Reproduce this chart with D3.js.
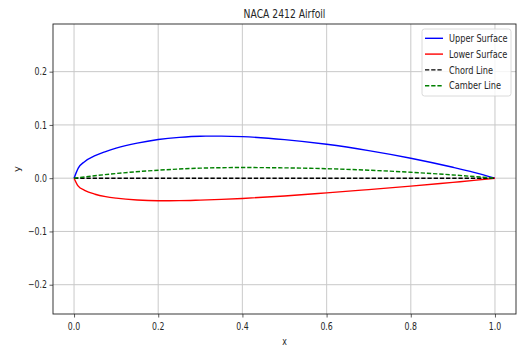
<!DOCTYPE html>
<html>
<head>
<meta charset="utf-8">
<script src="https://cdn.jsdelivr.net/npm/d3@7"></script>
<style>
  body { margin: 0; background: #fff; }
  text { font-family: "DejaVu Sans", sans-serif; fill: #262626; }
</style>
</head>
<body>
<div class="chart"></div>
<script>
// NACA 2412 airfoil

var xs = [0, 0.01, 0.025, 0.05, 0.075, 0.1, 0.15, 0.2, 0.25, 0.3, 0.35, 0.4, 0.5, 0.6, 0.7, 0.8, 0.9, 0.95, 1.0];
var upperY = [0, 0.019, 0.031, 0.0424, 0.050, 0.0563, 0.0658, 0.0726, 0.0767, 0.0788, 0.0790, 0.0780, 0.0724, 0.0636, 0.0518, 0.0375, 0.0205, 0.0110, 0];
var lowerY = [0, -0.015, -0.0227, -0.0301, -0.0346, -0.0375, -0.0410, -0.0423, -0.0422, -0.0412, -0.0398, -0.0380, -0.0334, -0.0276, -0.0214, -0.0150, -0.0078, -0.0042, 0];
var camberX = [0, 0.1, 0.2, 0.3, 0.4, 0.5, 0.6, 0.7, 0.8, 0.9, 1.0];
var camberY = [0, 0.0088, 0.015, 0.0188, 0.02, 0.0194, 0.0178, 0.015, 0.0111, 0.0061, 0];
var chordX = [0, 1];
var chordY = [0, 0];

var xTicks = [0, 0.2, 0.4, 0.6, 0.8, 1.0];
var yTicks = [-0.2, -0.1, 0, 0.1, 0.2];
var seriesNames = ["Upper Surface", "Lower Surface", "Chord Line", "Camber Line"];
var seriesColors = ["#0000ff", "#ff0000", "#000000", "#008000"];

var width = 523, height = 351;
var padL = 53, padR = 516, padT = 24, padB = 314;
var sx = 0.78; // text looks squeezed sideways

var svg = d3.select(".chart").append("svg")
    .attr("width", width)
    .attr("height", height);

var x = d3.scaleLinear().domain([-0.05, 1.05]).range([padL, padR]);
var y = d3.scaleLinear().domain([-0.255, 0.2895]).range([padB, padT]);

var zip = function(a, b){ return a.map(function(v, i){ return [v, b[i]]; }); };

var txt = function(g, px, py, s, anchor, size, scale){
  return g.append("text")
      .attr("transform", "translate(" + px + "," + py + ") scale(" + scale + ",1)")
      .attr("text-anchor", anchor)
      .style("font-size", size + "px")
      .text(s);
};

// grid
var grid = svg.append("g");
grid.selectAll(".gx").data(xTicks).enter().append("line")
    .attr("x1", function(d){ return x(d); }).attr("x2", function(d){ return x(d); })
    .attr("y1", padT).attr("y2", padB)
    .attr("stroke", "#d2d2d2").attr("stroke-width", 1.2);
grid.selectAll(".gy").data(yTicks).enter().append("line")
    .attr("y1", function(d){ return y(d); }).attr("y2", function(d){ return y(d); })
    .attr("x1", padL).attr("x2", padR)
    .attr("stroke", "#c8c8c8").attr("stroke-width", 1);

// axes
var xAxis = svg.append("g")
    .attr("transform", "translate(0," + padB + ")")
    .call(d3.axisBottom(x).tickValues(xTicks).tickSize(3.5).tickFormat(d3.format(".1f")));
var yAxis = svg.append("g")
    .attr("transform", "translate(" + padL + ",0)")
    .call(d3.axisLeft(y).tickValues(yTicks).tickSize(3.5));
[xAxis, yAxis].forEach(function(a){
  a.select(".domain").remove();
  a.selectAll(".tick line").attr("stroke", "#333").attr("stroke-width", 0.8);
  a.selectAll(".tick text").remove();
});
xTicks.forEach(function(d){
  txt(svg, x(d), padB + 15.5, d3.format(".1f")(d), "middle", 10, sx);
});
yTicks.forEach(function(d){
  txt(svg, padL - 6, y(d) + 3.6, d3.format(".1f")(d).replace("-", "\u2212"), "end", 10, sx);
});

// lines
var line = d3.line()
    .x(function(d){ return x(d[0]); })
    .y(function(d){ return y(d[1]); })
    .curve(d3.curveMonotoneX);

var plots = svg.append("g");
plots.append("path").datum(zip(xs, upperY))
    .attr("d", line).attr("fill", "none")
    .attr("stroke", seriesColors[0]).attr("stroke-width", 1.4);
plots.append("path").datum(zip(xs, lowerY))
    .attr("d", line).attr("fill", "none")
    .attr("stroke", seriesColors[1]).attr("stroke-width", 1.4);
plots.append("path").datum(zip(chordX, chordY))
    .attr("d", line).attr("fill", "none")
    .attr("stroke", seriesColors[2]).attr("stroke-width", 1.4)
    .attr("stroke-dasharray", "4.3,1.9");
plots.append("path").datum(zip(camberX, camberY))
    .attr("d", line).attr("fill", "none")
    .attr("stroke", seriesColors[3]).attr("stroke-width", 1.4)
    .attr("stroke-dasharray", "4.3,1.9");

// frame
svg.append("rect")
    .attr("x", padL).attr("y", padT)
    .attr("width", padR - padL).attr("height", padB - padT)
    .attr("fill", "none").attr("stroke", "#222").attr("stroke-width", 0.9);

// title and labels
txt(svg, (padL + padR) / 2, 18, "NACA 2412 Airfoil", "middle", 12, 0.77);
txt(svg, (padL + padR) / 2, 345, "x", "middle", 10, sx);
svg.append("text")
    .attr("transform", "translate(20," + ((padT + padB) / 2) + ") rotate(-90) scale(1,0.8)")
    .attr("text-anchor", "middle")
    .style("font-size", "10px")
    .text("y");

// legend
var legend = svg.append("g");
legend.append("rect")
    .attr("x", 422).attr("y", 29).attr("width", 89).attr("height", 67)
    .attr("rx", 2.5)
    .attr("fill", "#fff").attr("fill-opacity", 0.8)
    .attr("stroke", "#d0d0d0").attr("stroke-width", 0.8);
seriesNames.forEach(function(name, i){
  var ly = 38.3 + i * 15.8;
  legend.append("line")
      .attr("x1", 425).attr("x2", 443).attr("y1", ly).attr("y2", ly)
      .attr("stroke", seriesColors[i]).attr("stroke-width", 1.4)
      .attr("stroke-dasharray", i > 1 ? "4.3,1.9" : null);
  txt(legend, 449, ly + 3.6, name, "start", 10, 0.82);
});
</script>
</body>
</html>
